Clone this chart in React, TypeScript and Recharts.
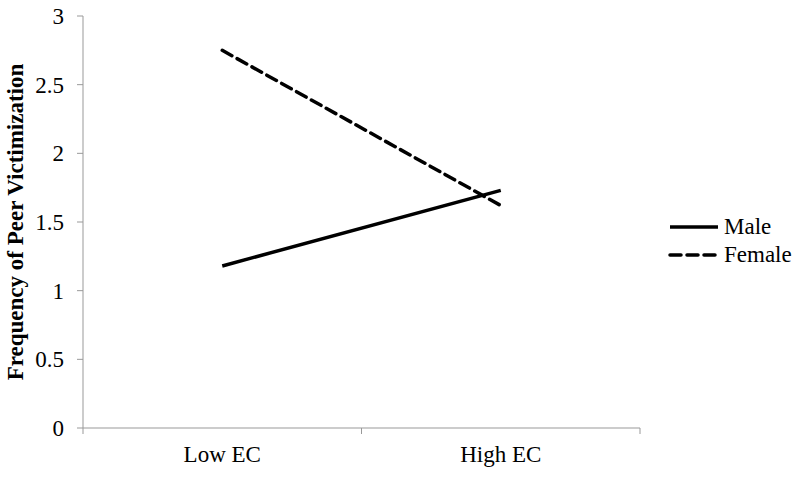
import { LineChart, Line, XAxis, YAxis } from "recharts"

const categories = ["Low EC", "High EC"]
const maleValues = [1.18, 1.73]
const femaleValues = [2.75, 1.62]
const yTicks = [0, 0.5, 1, 1.5, 2, 2.5, 3]

// categories sit in the middle of each band, tick marks on the band edges (Excel style)
const data = categories.map((name, i) => ({
    x: i + 0.5,
    name,
    male: maleValues[i],
    female: femaleValues[i],
}))
const xTicks = [0, 0.5, 1, 1.5, 2]

const font = "'Liberation Serif', 'Times New Roman', serif"

const XTick = (props: any) => {
    const { x, y, payload } = props
    const v = payload.value
    if (Number.isInteger(v)) {
        return <line x1={x} x2={x} y1={y - 8} y2={y - 2} stroke="#999" strokeWidth={1} />
    }
    const cat = data.find(d => d.x === v)
    return (
        <text x={x} y={y + 26} textAnchor="middle" fontFamily={font} fontSize={23} fill="#000">
            {cat ? cat.name : ""}
        </text>
    )
}

const LegendBox = () => (
    <svg width={140} height={60}>
        <line x1={10} x2={58} y1={12} y2={12} stroke="#000" strokeWidth={3.5} />
        <text x={64} y={19} fontFamily={font} fontSize={23} fill="#000">Male</text>
        <line x1={10} x2={58} y1={40} y2={40} stroke="#000" strokeWidth={3.5} strokeDasharray="11 6" strokeLinecap="round" />
        <text x={64} y={47} fontFamily={font} fontSize={23} fill="#000">Female</text>
    </svg>
)

export default function App() {
    return (
        <div style={{ position: "absolute", left: 0, top: 0, width: 800, height: 477, background: "#fff" }}>
            <LineChart width={800} height={477} data={data} margin={{ top: 16, right: 160, bottom: 0, left: 0 }}>
                <XAxis
                    dataKey="x"
                    type="number"
                    domain={[0, 2]}
                    ticks={xTicks}
                    interval={0}
                    height={49}
                    tickLine={false}
                    tick={<XTick />}
                    axisLine={{ stroke: "#999" }}
                />
                <YAxis
                    domain={[0, 3]}
                    ticks={yTicks}
                    width={83}
                    tick={{ fill: "#000", fontFamily: font, fontSize: 23 }}
                    tickLine={{ stroke: "#999" }}
                    tickSize={6}
                    tickMargin={13}
                    axisLine={{ stroke: "#999" }}
                    label={{
                        value: "Frequency of Peer Victimization",
                        angle: -90,
                        position: "insideLeft",
                        dx: 10,
                        style: { fontFamily: font, fontSize: 23, fontWeight: "bold", fill: "#000", textAnchor: "middle" },
                    }}
                />
                <Line dataKey="male" stroke="#000" strokeWidth={3.5} dot={false} isAnimationActive={false} />
                <Line dataKey="female" stroke="#000" strokeWidth={3.5} strokeDasharray="11 6" strokeLinecap="round" dot={false} isAnimationActive={false} />
            </LineChart>
            <div style={{ position: "absolute", left: 660, top: 215 }}>
                <LegendBox />
            </div>
        </div>
    )
}
